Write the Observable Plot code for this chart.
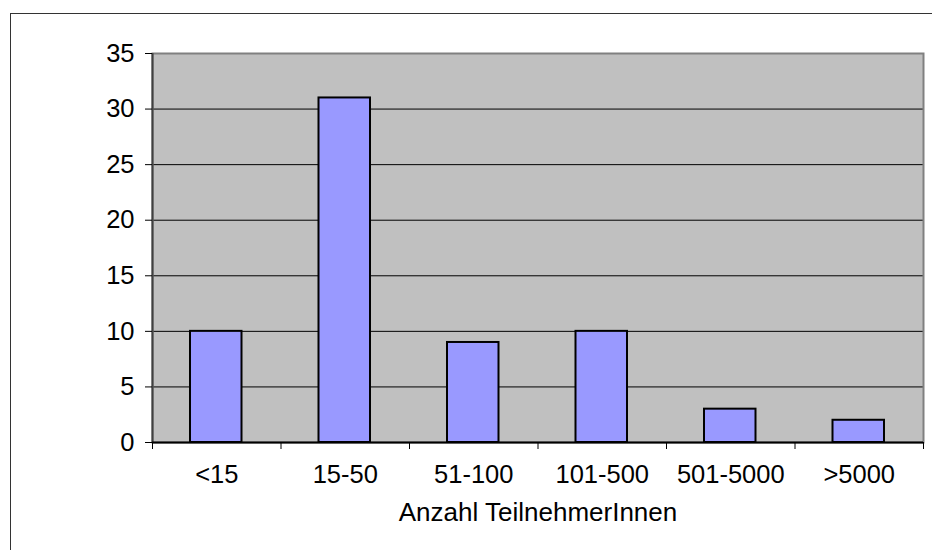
<!DOCTYPE html>
<html>
<head>
<meta charset="utf-8">
<script src="https://cdn.jsdelivr.net/npm/d3@7"></script>
<script src="https://cdn.jsdelivr.net/npm/@observablehq/plot@0.6"></script>
<style>
  html, body { margin: 0; padding: 0; background: #fff; }
  #wrap { position: relative; width: 932px; height: 550px; overflow: hidden; }
  #border { position: absolute; left: 10px; top: 13px; width: 960px; height: 600px;
            border: 1px solid #333; box-sizing: border-box; pointer-events: none; }
  svg { font-family: "Liberation Sans", Arial, sans-serif; }
</style>
</head>
<body>
<div id="wrap"><div id="border"></div></div>
<script>
const categories = ["<15", "15-50", "51-100", "101-500", "501-5000", ">5000"];
const values = [10, 31, 9, 10, 3, 2];
const yTicks = [0, 5, 10, 15, 20, 25, 30, 35];
const gridValues = [5, 10, 15, 20, 25, 30];
const xLabel = "Anzahl TeilnehmerInnen";

const table = categories.map((c, i) => ({category: c, value: values[i], pos: i}));
const boundaries = d3.range(categories.length + 1);
const centers = categories.map((c, i) => i + 0.5);

const chart = Plot.plot({
  width: 932,
  height: 550,
  marginLeft: 152,
  marginRight: 9,
  marginTop: 53,
  marginBottom: 108,
  style: {fontFamily: "'Liberation Sans', Arial, sans-serif", fontSize: "25px", color: "#000", background: "transparent"},
  x: {type: "linear", domain: [0, categories.length], axis: null},
  y: {domain: [0, 35], axis: null},
  marks: [
    Plot.frame({fill: "#c0c0c0"}),
    Plot.ruleY(gridValues, {stroke: "#000", strokeWidth: 1}),
    Plot.frame({stroke: "#808080", strokeWidth: 2}),
    Plot.ruleX([0], {stroke: "#404040", strokeWidth: 2}),
    Plot.rectY(table, {
      x1: d => d.pos, x2: d => d.pos + 1, y: "value",
      insetLeft: 38, insetRight: 39,
      fill: "#9999ff", stroke: "#000", strokeWidth: 2
    }),
    Plot.ruleY([0], {stroke: "#000", strokeWidth: 2}),
    Plot.axisY({ticks: yTicks, tickSize: 7, tickPadding: 11, fontSize: 25.5, stroke: "#000", strokeWidth: 1, label: null}),
    Plot.axisX({ticks: boundaries, tickSize: 7, tickFormat: () => "", stroke: "#000", strokeWidth: 1, label: null}),
    Plot.axisX({ticks: centers, tickSize: 0, tickPadding: 22, fontSize: 25.5, tickFormat: v => categories[Math.floor(v)], label: null}),
    Plot.text([xLabel], {frameAnchor: "bottom", dy: 78, fontSize: 26, fill: "#000", text: d => d})
  ]
});
document.getElementById("wrap").insertBefore(chart, document.getElementById("border"));
</script>
</body>
</html>
